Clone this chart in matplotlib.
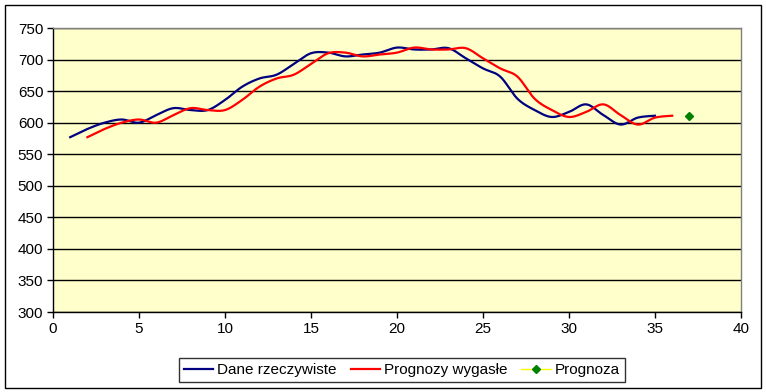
import numpy as np
import matplotlib
matplotlib.use("Agg")
import matplotlib.pyplot as plt
from matplotlib.patches import Rectangle
from matplotlib.lines import Line2D

plt.rcParams['font.family'] = ['Liberation Sans', 'DejaVu Sans']

x_actual = list(range(1, 36))
actual = [577, 590, 600, 605, 600, 612, 623, 620, 620, 636,
          657, 670, 676, 693, 710, 711, 705, 708, 711, 719,
          716, 716, 718, 702, 686, 673, 638, 620, 609, 617,
          629, 612, 597, 608, 611]
x_forecast = list(range(2, 37))
forecast = actual[:]  # expired forecasts: previous period value
x_pred = [37]
pred = [610]


def smooth(xs, ys, n=20):
    xs = np.asarray(xs, float)
    ys = np.asarray(ys, float)
    P = np.column_stack([xs, ys])
    P = np.vstack([P[0], P, P[-1]])
    out = []
    for i in range(1, len(P) - 2):
        p0, p1, p2, p3 = P[i - 1], P[i], P[i + 1], P[i + 2]
        c1 = p1 + (p2 - p0) / 6.0
        c2 = p2 - (p3 - p1) / 6.0
        t = np.linspace(0, 1, n, endpoint=(i == len(P) - 3))[:, None]
        seg = ((1 - t) ** 3) * p1 + 3 * ((1 - t) ** 2) * t * c1 + 3 * (1 - t) * t ** 2 * c2 + t ** 3 * p2
        out.append(seg)
    out = np.vstack(out)
    return out[:, 0], out[:, 1]


fig = plt.figure(figsize=(7.66, 3.92), dpi=100)
ax = fig.add_axes([53 / 766, 80 / 392, 688 / 766, 284 / 392])
ax.set_facecolor('#FFFFCC')

bx, by = smooth(x_actual, actual)
ax.plot(bx, by, color='#000080', lw=1.6, zorder=3)
rx, ry = smooth(x_forecast, forecast)
ax.plot(rx, ry, color='#FF0000', lw=1.6, zorder=3)
ax.plot(x_pred, pred, linestyle='none', marker='D', color='#008000', ms=4, zorder=4)

ax.set_xlim(0, 40)
ax.set_ylim(300, 750)
ax.set_xticks(range(0, 41, 5))
ax.set_yticks(range(300, 751, 50))
ax.yaxis.grid(True, color='black', lw=1)
ax.set_axisbelow(True)
ax.tick_params(direction='out', length=4, width=1, color='black', labelsize=11, pad=3)

for s in ['top', 'right']:
    ax.spines[s].set_color('#808080')
    ax.spines[s].set_linewidth(1)
for s in ['left', 'bottom']:
    ax.spines[s].set_color('black')
    ax.spines[s].set_linewidth(1)

handles = [
    Line2D([], [], color='#000080', lw=1.6),
    Line2D([], [], color='#FF0000', lw=1.6),
    Line2D([], [], color='#FFFF00', lw=1, marker='D', markerfacecolor='#008000',
           markeredgecolor='#008000', ms=4),
]
leg = fig.legend(handles, ['Dane rzeczywiste', 'Prognozy wygasłe', 'Prognoza'],
                 loc='center', bbox_to_anchor=(402 / 766, 1 - 370 / 392), ncol=3,
                 frameon=True, fancybox=False, edgecolor='black', fontsize=11,
                 handlelength=1.9, handletextpad=0.3, columnspacing=0.9,
                 borderpad=0.3)
leg.get_frame().set_linewidth(1)

fig.patches.append(Rectangle((5 / 766, 4 / 392), 756 / 766, 383 / 392,
                             transform=fig.transFigure, fill=False,
                             edgecolor='black', lw=1))

fig.savefig('out.png', dpi=100)
